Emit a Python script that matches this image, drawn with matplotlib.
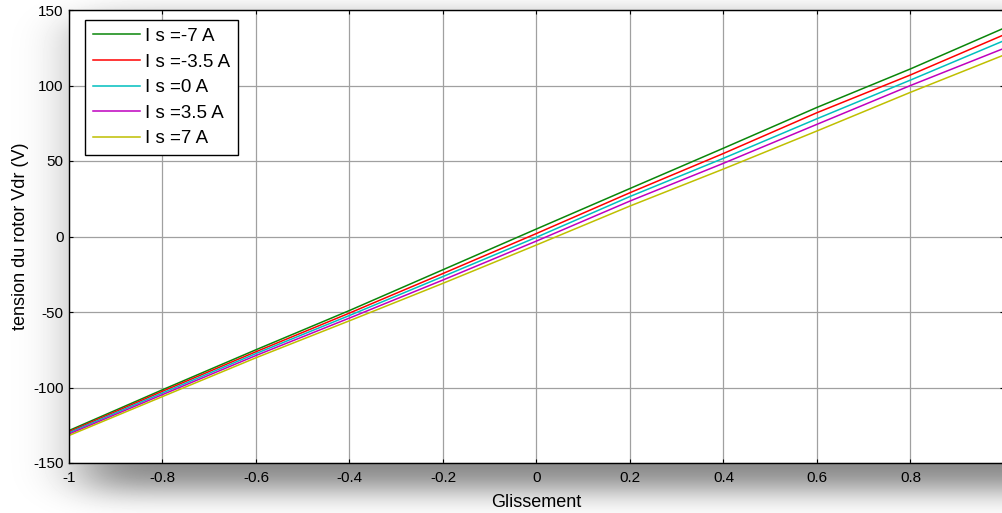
import math
import numpy as np
import matplotlib
matplotlib.use("Agg")
import matplotlib.pyplot as plt

plt.rcParams['font.family'] = ['Liberation Sans', 'DejaVu Sans']
plt.rcParams['axes.unicode_minus'] = False

# Slip values and rotor voltage Vdr for each stator current
slip = [-1.0, -0.8, -0.6, -0.4, -0.2, 0.0, 0.2, 0.4, 0.6, 0.8, 1.0]
vdr_m7 = [-128.5, -101.5, -75.0, -49.0, -22.0, 5.0, 31.8, 58.5, 85.5, 111.0, 138.0]
vdr_m35 = [-129.3, -102.5, -76.3, -50.7, -24.5, 2.0, 29.0, 55.0, 82.0, 107.0, 133.6]
vdr_0 = [-130.0, -103.6, -77.5, -52.3, -26.5, -0.5, 26.5, 51.8, 78.0, 103.6, 129.7]
vdr_p35 = [-130.8, -104.7, -78.8, -54.0, -28.8, -3.0, 23.5, 48.5, 74.3, 100.0, 124.6]
vdr_p7 = [-131.8, -106.0, -80.3, -55.8, -31.0, -5.6, 20.2, 44.7, 69.9, 95.5, 120.2]

series = [vdr_m7, vdr_m35, vdr_0, vdr_p35, vdr_p7]
labels = ["I s =-7 A", "I s =-3.5 A", "I s =0 A", "I s =3.5 A", "I s =7 A"]
colors = ["#0a860a", "#ff0000", "#00bfbf", "#bf00bf", "#bfbf00"]

xticks = [-1, -0.8, -0.6, -0.4, -0.2, 0, 0.2, 0.4, 0.6, 0.8]
xticklabels = ["-1", "-0.8", "-0.6", "-0.4", "-0.2", "0", "0.2", "0.4", "0.6", "0.8"]
yticks = [-150, -100, -50, 0, 50, 100, 150]

W, H = 1003, 513
fig = plt.figure(figsize=(W / 100, H / 100), dpi=100)
fig.patch.set_facecolor("white")

# Soft drop shadow behind the plot box
def edge(coord, lo, hi, s):
    return np.array([0.5 * (math.erf((c - lo) / (s * math.sqrt(2))) -
                            math.erf((c - hi) / (s * math.sqrt(2)))) for c in coord])

xs = np.arange(W) + 0.5
ys = np.arange(H) + 0.5
fx = edge(xs, 83, 1100, 30)
fy = edge(ys, 20, 490, 14.5)
dark = 0.47 * np.outer(fy, fx)
bg = fig.add_axes([0, 0, 1, 1], zorder=-5)
bg.imshow(1 - dark, cmap="gray", vmin=0, vmax=1, aspect="auto",
          extent=[0, 1, 0, 1], interpolation="bilinear")
bg.set_axis_off()

left, right, top, bottom = 69, 1004, 10, 463
ax = fig.add_axes([left / W, (H - bottom) / H, (right - left) / W, (bottom - top) / H])
ax.set_facecolor("white")

for vals, lab, col in zip(series, labels, colors):
    ax.plot(slip, vals, color=col, lw=1.1, label=lab)

ax.set_xlim(-1, 1)
ax.set_ylim(-150, 150)
ax.set_xticks(xticks)
ax.set_xticklabels(xticklabels)
ax.set_yticks(yticks)
ax.grid(True, color="#a0a0a0", lw=0.9, linestyle="-")
ax.set_axisbelow(True)
ax.tick_params(direction="in", length=3, width=0.8, top=True, right=True,
               labelsize=11, colors="black")
ax.tick_params(axis="x", pad=6)
ax.tick_params(axis="y", pad=4)
for sp in ax.spines.values():
    sp.set_color("black")
    sp.set_linewidth(1.0)

ax.set_xlabel("Glissement", fontsize=13, labelpad=6)
ax.set_ylabel("tension du rotor Vdr (V)", fontsize=13, labelpad=3)

leg = ax.legend(loc="upper left", bbox_to_anchor=(0.017, 0.978), borderaxespad=0,
                fontsize=13.5, frameon=True, fancybox=False, framealpha=1,
                edgecolor="black", handlelength=2.5, handletextpad=0.3,
                labelspacing=0.45, borderpad=0.42)
leg.get_frame().set_linewidth(1.0)

fig.savefig("out.png", dpi=100)
